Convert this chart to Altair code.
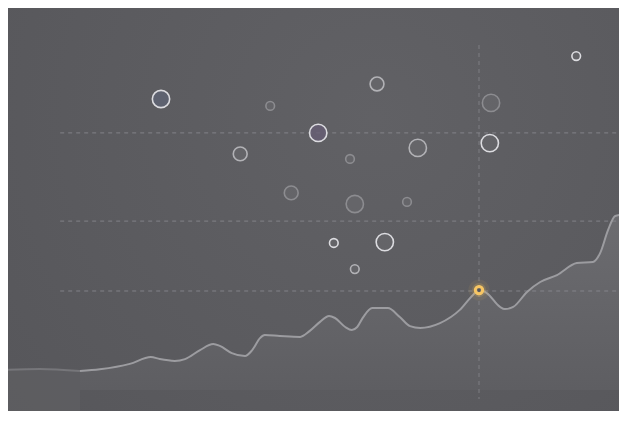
import altair as alt
import pandas as pd

# smooth trend line (x = week index, y = value)
weeks = [12.5, 15.8, 20.8, 24.3, 25.8, 28.3, 30.0, 32.5, 34.7, 35.8, 37.8, 40.0,
         41.2, 42.5, 43.3, 45.8, 49.2, 50.8, 52.5, 54.0, 55.0, 56.7, 57.8, 58.7,
         59.7, 61.2, 63.8, 65.8, 67.5, 69.2, 72.5, 75.8, 78.0, 79.0, 80.3, 82.5,
         83.3, 84.7, 87.0, 89.2, 92.0, 95.3, 98.0, 99.2, 100.5, 101.7, 103.7]
values = [6.3, 6.9, 8.7, 11.0, 10.3, 9.7, 10.3, 13.3, 15.3, 14.7, 12.3, 11.3,
          13.3, 17.3, 18.3, 18.0, 17.7, 19.7, 22.7, 24.7, 24.0, 21.0, 20.0, 21.0,
          24.3, 27.3, 27.3, 24.3, 21.3, 20.7, 22.3, 26.7, 31.7, 33.3, 32.3, 27.7,
          27.0, 27.7, 32.7, 36.0, 38.3, 42.3, 42.7, 45.7, 53.3, 58.0, 58.7]

# faded lead-in segment
lead_weeks = [-0.3, 5.8, 12.5]
lead_values = [6.7, 7.0, 6.3]

# bubbles
b_week = [26.0, 44.2, 39.2, 47.7, 52.2, 62.0, 57.5, 68.8, 58.3, 67.0, 81.0, 80.8,
          95.2, 54.8, 63.3, 58.3]
b_value = [97.0, 94.7, 78.7, 65.7, 85.7, 102.0, 77.0, 80.7, 62.0, 62.7, 95.7, 82.3,
           111.3, 49.0, 49.3, 40.3]
b_mag = [100, 25, 64, 64, 100, 64, 25, 100, 100, 25, 100, 100, 25, 25, 100, 25]
b_tone = ["bright", "dim", "mid", "dim", "bright", "mid", "dim", "mid", "dim", "dim",
          "dim", "bright", "bright", "bright", "bright", "mid"]
b_kind = ["blue", "gray", "gray", "gray", "purple", "gray", "gray", "gray", "gray",
          "gray", "gray", "gray", "gray", "gray", "gray", "gray"]

ref_values = [85.7, 56.3, 33.0]
ref_start, ref_end = 9.2, 103.7
marker_week = 79.0
marker_span = [115.0, -3.0]

W, H = 611, 403
xs = alt.Scale(domain=[0.5, 102.33], nice=False, zero=False)
ys = alt.Scale(domain=[-7, 127.33], nice=False, zero=False)

line_df = pd.DataFrame({"week": weeks, "value": values, "base": 0.0})
lead_df = pd.DataFrame({"week": lead_weeks, "value": lead_values, "base": -11.0})
bub_df = pd.DataFrame({"week": b_week, "value": b_value, "mag": b_mag,
                       "tone": b_tone, "kind": b_kind})
ref_df = pd.DataFrame({"value": ref_values, "x0": ref_start, "x1": ref_end})
vline_df = pd.DataFrame({"week": [marker_week], "v0": [marker_span[0]], "v1": [marker_span[1]]})
hi_df = line_df[line_df["week"] == marker_week]

X = alt.X("week:Q", scale=xs, axis=None)
Y = alt.Y("value:Q", scale=ys, axis=None)

# soft radial backdrop
backdrop = alt.Chart(pd.DataFrame({"k": [0]})).mark_rect(
    color=alt.Gradient(gradient="radial", x1=0.6, y1=0.35, x2=0.6, y2=0.35, r1=0, r2=0.8,
                       stops=[alt.GradientStop(color="#616165", offset=0),
                              alt.GradientStop(color="#56565a", offset=1)])
).encode(x=alt.value(0), x2=alt.value(W), y=alt.value(0), y2=alt.value(H))

lead_area = alt.Chart(lead_df).mark_area(
    interpolate="monotone", color="#606064", opacity=0.6, clip=True
).encode(X, Y, y2="base:Q")
lead_line = alt.Chart(lead_df).mark_line(
    interpolate="monotone", color="#76767a", strokeWidth=2, clip=True
).encode(X, Y)

area = alt.Chart(line_df).mark_area(
    interpolate="monotone", clip=True,
    color=alt.Gradient(gradient="linear", x1=0, y1=0, x2=0, y2=1,
                       stops=[alt.GradientStop(color="#6c6c70", offset=0),
                              alt.GradientStop(color="#5e5e62", offset=1)])
).encode(X, Y, y2="base:Q")
line = alt.Chart(line_df).mark_line(
    interpolate="monotone", color="#9c9ca0", strokeWidth=2, clip=True
).encode(X, Y)

hrules = alt.Chart(ref_df).mark_rule(
    color="#8c8c92", strokeWidth=1, strokeDash=[4, 4], opacity=0.8, clip=True
).encode(x=alt.X("x0:Q", scale=xs, axis=None), x2="x1:Q", y=Y)
vrule = alt.Chart(vline_df).mark_rule(
    color="#8c8c92", strokeWidth=1, strokeDash=[4, 4], opacity=0.7, clip=True
).encode(X, y=alt.Y("v0:Q", scale=ys, axis=None), y2="v1:Q")

bubbles = alt.Chart(bub_df).mark_circle(strokeWidth=1.6, fillOpacity=0.75).encode(
    X, Y,
    size=alt.Size("mag:Q", scale=alt.Scale(domain=[0, 100], range=[0, 300]), legend=None),
    stroke=alt.Stroke("tone:N", scale=alt.Scale(domain=["bright", "mid", "dim"],
                      range=["#dcdce0", "#b2b2b6", "#8c8c90"]), legend=None),
    fill=alt.Fill("kind:N", scale=alt.Scale(domain=["blue", "purple", "gray"],
                  range=["#5f6475", "#675e76", "#67676b"]), legend=None),
)

glow2 = alt.Chart(hi_df).mark_circle(color="#f5c15a", opacity=0.08, size=450).encode(X, Y)
glow1 = alt.Chart(hi_df).mark_circle(color="#f5c15a", opacity=0.18, size=200).encode(X, Y)
marker = alt.Chart(hi_df).mark_point(
    shape="circle", filled=False, stroke="#f7c664", strokeWidth=3, size=55, opacity=1
).encode(X, Y)
dot = alt.Chart(hi_df).mark_circle(color="#55555a", opacity=1, size=14).encode(X, Y)

chart = alt.layer(
    backdrop, lead_area, area, hrules, vrule, lead_line, line, bubbles,
    glow2, glow1, dot, marker
).properties(
    width=W, height=H, autosize=alt.AutoSizeParams(type="none"), padding=0,
    background="#5a5a5e"
).configure_view(stroke=None)

chart.save("out.html", embed_options={"renderer": "svg", "actions": False})
